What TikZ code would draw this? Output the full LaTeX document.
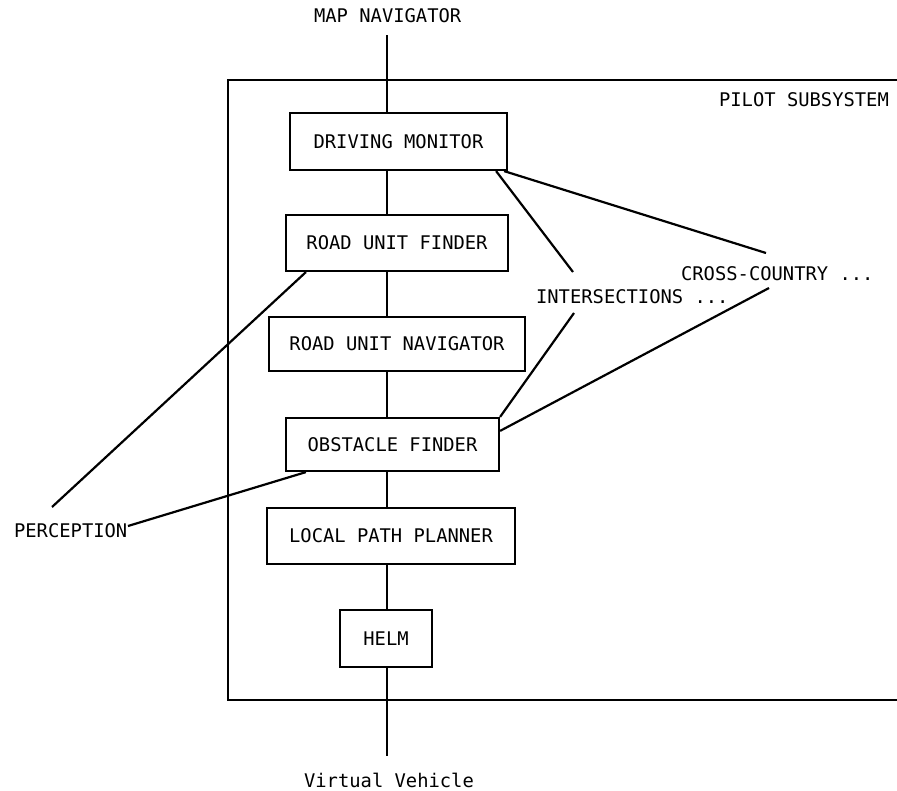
\documentclass[tikz,border=0pt]{standalone}
\usepackage{fontspec}
\setmonofont{DejaVu Sans Mono}
\usetikzlibrary{calc}
\begin{document}
\begin{tikzpicture}[x=1pt,y=-1pt,line width=2.2pt,
  lbl/.style={font=\ttfamily\fontsize{18.8}{22}\selectfont,inner sep=0pt},
  blk/.style={draw,lbl,line width=2.2pt}]
\useasboundingbox (0,0) rectangle (897,790);
% frame
\coordinate (fa) at (897,80);
\coordinate (fb) at (228,80);
\coordinate (fc) at (228,700);
\coordinate (fd) at (897,700);
\draw (fa) -- (fb) -- (fc) -- (fd);
% labels
\node[lbl,anchor=base west] (mapnav) at (313,22) {MAP NAVIGATOR};
\node[lbl,anchor=base west] (pilot) at (718,106) {PILOT SUBSYSTEM};
\node[lbl,anchor=base west] (cross) at (680,280) {CROSS-COUNTRY ...};
\node[lbl,anchor=base west] (inter) at (535,303) {INTERSECTIONS ...};
\node[lbl,anchor=base west] (perc) at (13,537) {PERCEPTION};
\node[lbl,anchor=base west] (vv) at (303,787) {Virtual Vehicle};
% boxes
\node[blk,minimum width=217pt,minimum height=57pt] (dm) at (398.5,141.5) {DRIVING MONITOR};
\node[blk,minimum width=222pt,minimum height=56pt] (ruf) at (397,243) {ROAD UNIT FINDER};
\node[blk,minimum width=256pt,minimum height=54pt] (run) at (397,344) {ROAD UNIT NAVIGATOR};
\node[blk,minimum width=213pt,minimum height=53pt] (of) at (392.5,444.5) {OBSTACLE FINDER};
\node[blk,minimum width=248pt,minimum height=56pt] (lpp) at (391,536) {LOCAL PATH PLANNER};
\node[blk,minimum width=92pt,minimum height=57pt] (helm) at (386,638.5) {HELM};
% main chain
\coordinate (top) at (387,35);
\coordinate (bot) at (387,756);
\draw (top) -- (top |- dm.north);
\draw (top |- dm.south) -- (top |- ruf.north);
\draw (top |- ruf.south) -- (top |- run.north);
\draw (top |- run.south) -- (top |- of.north);
\draw (top |- of.south) -- (top |- lpp.north);
\draw (top |- lpp.south) -- (top |- helm.north);
\draw (top |- helm.south) -- (bot);
% side connectors
\coordinate (intA) at (573,272);
\coordinate (intB) at (574,313);
\coordinate (ccA) at (766,253);
\coordinate (ccB) at (769,288);
\coordinate (percA) at (52,507);
\coordinate (percB) at (128,526);
\draw ([xshift=-12pt]dm.south east) -- (intA);
\draw ([xshift=-4pt]dm.south east) -- (ccA);
\draw (of.north east) -- (intB);
\draw ([yshift=-14pt]of.north east) -- (ccB);
\draw ([xshift=21pt]ruf.south west) -- (percA);
\draw ([xshift=21pt]of.south west) -- (percB);
\end{tikzpicture}
\end{document}
